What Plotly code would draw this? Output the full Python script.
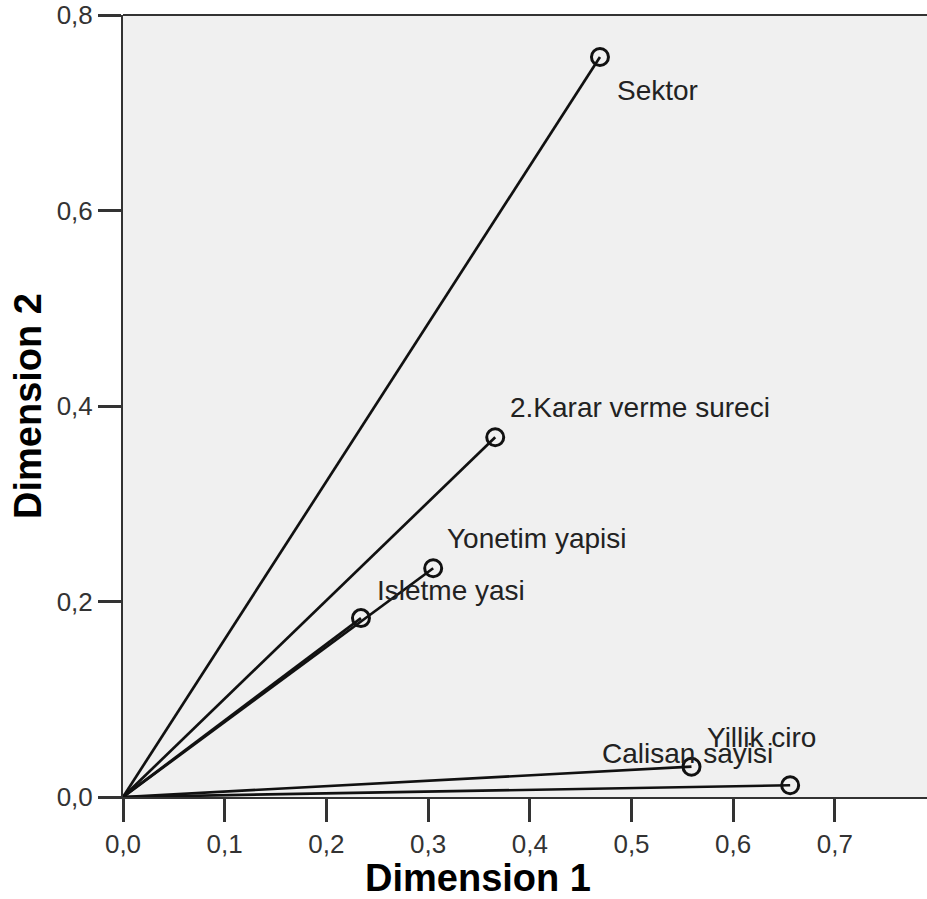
import plotly.graph_objects as go

# Data
variables = ["Sektor", "2.Karar verme sureci", "Yonetim yapisi", "Isletme yasi",
             "Calisan sayisi", "Yillik ciro"]
dim1 = [0.469, 0.366, 0.305, 0.234, 0.559, 0.656]
dim2 = [0.757, 0.368, 0.234, 0.183, 0.031, 0.012]
x_ticks = [0.0, 0.1, 0.2, 0.3, 0.4, 0.5, 0.6, 0.7]
y_ticks = [0.0, 0.2, 0.4, 0.6, 0.8]

# label pixel offsets (style/position only)
label_dx = [15, 13, 12, 14, -92, -85]
label_dy = [-33, 30, 30, 28, 13, 48]

FONT = "Liberation Sans, Arial, sans-serif"

fig = go.Figure()
for name, xv, yv in zip(variables, dim1, dim2):
    fig.add_trace(go.Scatter(x=[0, xv], y=[0, yv], mode="lines",
                             line=dict(color="#111111", width=2.7),
                             hoverinfo="skip", showlegend=False))
fig.add_trace(go.Scatter(x=dim1, y=dim2, mode="markers", text=variables,
                         marker=dict(symbol="circle-open", size=17,
                                     color="#111111", line=dict(width=3, color="#111111")),
                         showlegend=False))

annotations = []
for name, xv, yv, dx, dy in zip(variables, dim1, dim2, label_dx, label_dy):
    annotations.append(dict(x=xv, y=yv, xref="x", yref="y", text=name, showarrow=False,
                            xanchor="left", yanchor="middle", xshift=dx, yshift=dy,
                            font=dict(family=FONT, size=28, color="#222222")))
annotations.append(dict(x=(477.5 - 123) / (927 - 123), y=0, xref="paper", yref="paper",
                        text="<b>Dimension 1</b>", showarrow=False, xanchor="center",
                        yanchor="top", yshift=-58,
                        font=dict(family=FONT, size=38, color="#000000")))
annotations.append(dict(x=0, y=0.5, xref="paper", yref="paper",
                        text="<b>Dimension 2</b>", showarrow=False, xanchor="center",
                        yanchor="middle", xshift=-95, textangle=-90,
                        font=dict(family=FONT, size=38, color="#000000")))

fig.update_layout(
    width=927, height=899,
    margin=dict(l=123, r=0, t=15, b=102),
    paper_bgcolor="white", plot_bgcolor="#f0f0f0",
    separators=",.",
    annotations=annotations,
    shapes=[dict(type="line", xref="paper", yref="paper", x0=0, x1=1, y0=1, y1=1,
                 line=dict(color="#333333", width=2))],
    font=dict(family=FONT),
)
fig.update_xaxes(range=[0, (927 - 123) / 1017], tickvals=x_ticks, tickformat=".1f",
                 showgrid=False, zeroline=False, showline=True, linecolor="#333333",
                 linewidth=2, ticks="outside", ticklen=23, tickwidth=2.5, tickcolor="#333333",
                 tickfont=dict(family=FONT, size=26, color="#333333"))
fig.update_yaxes(range=[0, 0.8], tickvals=y_ticks, tickformat=".1f",
                 showgrid=False, zeroline=False, showline=True, linecolor="#333333",
                 linewidth=2, ticks="outside", ticklen=23, tickwidth=2.5, tickcolor="#333333",
                 tickfont=dict(family=FONT, size=26, color="#333333"))

fig.write_html("out.html", config={"displayModeBar": False},
               post_script="document.body.style.margin='0';document.body.style.overflow='hidden';")
